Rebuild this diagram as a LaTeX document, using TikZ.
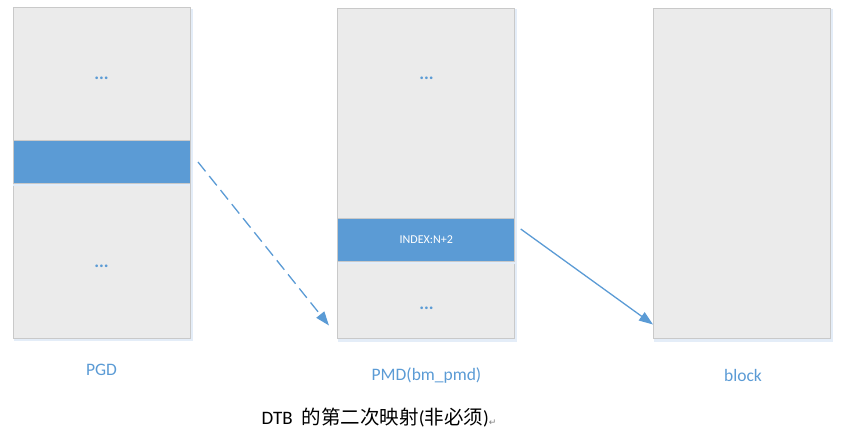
\documentclass[tikz,border=0pt]{standalone}
\usepackage{fontspec}
\setmainfont{Carlito}
\newfontfamily\cjk{Noto Sans CJK SC}
\newfontfamily\djv{DejaVu Sans}
\usetikzlibrary{arrows.meta}
\definecolor{offblue}{HTML}{5B9BD5}
\definecolor{boxgray}{HTML}{EBEBEB}
\definecolor{boxline}{HTML}{C9C9C9}
\definecolor{shadowc}{HTML}{E4EDF8}
\tikzset{
  x=1pt, y=-1pt,
  membox/.style={draw=boxline, line width=1pt, fill=boxgray, minimum width=177pt, minimum height=330.6pt, inner sep=0pt,
    preaction={draw=shadowc, fill=shadowc, line width=2pt, transform canvas={shift={(1.5pt,-2pt)}}}},
  band/.style={draw=boxline, line width=0.8pt, fill=offblue, minimum width=177pt, minimum height=43pt, inner sep=0pt,
    preaction={draw=none, fill=shadowc, transform canvas={shift={(0pt,-2.5pt)}}}},
  dots/.style={text=offblue, font=\fontsize{18}{18}\selectfont\bfseries, inner sep=0pt},
  lbl/.style={text=offblue, font=\fontsize{17.5}{18}\selectfont, inner sep=0pt},
  conn/.style={draw=offblue, line width=1.3pt, -{Triangle[length=14pt,width=10pt]}},
}
\begin{document}
\begin{tikzpicture}
\useasboundingbox (0,0) rectangle (847,435);
% boxes
\node[membox] (pgd) at (101.8,173) {};
\node[membox] (pmd) at (426.3,173.5) {};
\node[membox] (blk) at (742,173.5) {};
% bands
\node[band] (pgdband) at (101.8,162.2) {};
\node[band, font=\fontsize{12}{12}\selectfont, text=white] (pmdband) at (426.3,240) {INDEX:N+2};
% dots
\node[dots] (pgdd1) at (101.5,78.5) {...};
\node[dots] (pgdd2) at (101.5,266.5) {...};
\node[dots] (pmdd1) at (426.5,78.5) {...};
\node[dots] (pmdd2) at (426.5,308.5) {...};
% labels
\node[lbl] (pgdl) at (101.5,370) {PGD};
\node[lbl] (pmdl) at (426.5,375.5) {PMD(bm\_pmd)};
\node[lbl] (blkl) at (743,375.5) {block};
% caption
\node[anchor=west, inner sep=0pt, font=\fontsize{19}{19}\selectfont] (cap) at (261.5,418)
  {DTB\hspace{9pt}{\cjk\fontsize{19.5}{19.5}\selectfont 的第二次映射}({\cjk\fontsize{19.5}{19.5}\selectfont 非必须})\raisebox{-1pt}{\textcolor{gray}{\djv\fontsize{9}{9}\selectfont ↵}}};
% connectors
\coordinate (d1) at (198,162);
\coordinate (d2) at (329,325.5);
\coordinate (s1) at (520.7,229);
\coordinate (s2) at (653,324.5);
\draw[conn, dash pattern=on 12pt off 6pt] (d1) -- (d2);
\draw[conn] (s1) -- (s2);
\end{tikzpicture}
\end{document}
